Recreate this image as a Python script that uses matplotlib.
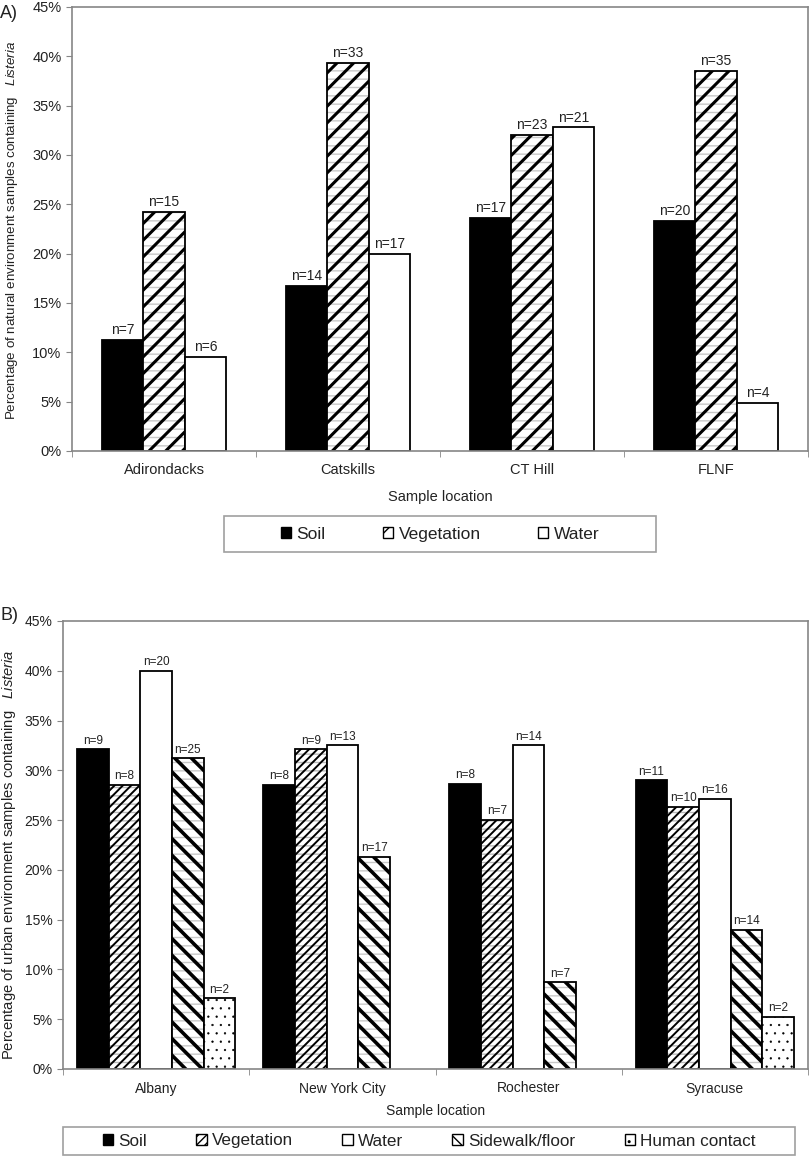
import matplotlib
matplotlib.use("Agg")
import matplotlib.pyplot as plt
import numpy as np
from matplotlib.patches import Patch, Rectangle
from matplotlib.ticker import FuncFormatter

plt.rcParams["font.family"] = ["Liberation Sans", "DejaVu Sans"]
plt.rcParams["mathtext.fontset"] = "custom"
plt.rcParams["mathtext.rm"] = "Liberation Sans"
plt.rcParams["mathtext.it"] = "Liberation Sans:italic"

# panel A: natural environment
natural_sites = ["Adirondacks", "Catskills", "CT Hill", "FLNF"]
natural_types = ["Soil", "Vegetation", "Water"]
natural_pct = [
    [11.3, 16.7, 23.6, 23.3],  # soil
    [24.2, 39.3, 32.0, 38.5],  # vegetation
    [9.5, 20.0, 32.8, 4.9],    # water
]
natural_n = [
    [7, 14, 17, 20],
    [15, 33, 23, 35],
    [6, 17, 21, 4],
]

# panel B: urban environment
urban_sites = ["Albany", "New York City", "Rochester", "Syracuse"]
urban_types = ["Soil", "Vegetation", "Water", "Sidewalk/floor", "Human contact"]
urban_pct = [
    [32.1, 28.5, 28.6, 29.0],   # soil
    [28.5, 32.1, 25.0, 26.3],   # vegetation
    [40.0, 32.5, 32.5, 27.1],   # water
    [31.2, 21.3, 8.7, 14.0],    # sidewalk/floor
    [7.1, 0.0, 0.0, 5.2],       # human contact
]
urban_n = [
    [9, 8, 8, 11],
    [8, 9, 7, 10],
    [20, 13, 14, 16],
    [25, 17, 7, 14],
    [2, None, None, 2],
]

GRAY = "#868686"
TXT = "#222222"
W, H = 810, 1156


def hatched_bar(ax, x, h, width, face, hatch, hatch_lw, under=None):
    # optional light grey horizontal lines under the main hatch
    if under is not None:
        with plt.rc_context({"hatch.linewidth": 1.0}):
            b0 = ax.bar(x, h, width, color="white", edgecolor=under, hatch="--", linewidth=0)
        for b in b0:
            if hasattr(b, "set_hatch_linewidth"):
                b.set_hatch_linewidth(1.0)
        face = "none"
    with plt.rc_context({"hatch.linewidth": hatch_lw}):
        bars = ax.bar(x, h, width, facecolor=face, edgecolor="black", hatch=hatch, linewidth=1.3)
    for b in bars:
        if hasattr(b, "set_hatch_linewidth"):
            b.set_hatch_linewidth(hatch_lw)
    return bars


def style_axis(ax, labels, fs, lpad):
    ax.set_xlim(-0.5, 3.5)
    ax.set_ylim(0, 0.45)
    ax.set_yticks(np.arange(0, 0.451, 0.05))
    ax.yaxis.set_major_formatter(FuncFormatter(lambda v, p: f"{v * 100:.0f}%"))
    ax.set_xticks(range(4), labels)
    ax.set_xticks(np.arange(-0.5, 4, 1), minor=True)
    ax.tick_params(axis="x", which="major", length=0, pad=9, labelsize=fs, labelcolor=TXT)
    ax.tick_params(axis="x", which="minor", length=4, color=GRAY, direction="out")
    ax.tick_params(axis="y", length=4, color=GRAY, direction="out", labelsize=fs, labelcolor=TXT)
    for s in ax.spines.values():
        s.set_color(GRAY)
        s.set_linewidth(1.2)
    ax.set_xlabel("Sample location", fontsize=fs, color=TXT, labelpad=lpad)


def boxed_legend(handles, box, fs, colsp):
    x0, y0, x1, y1 = box
    fig.patches.append(Rectangle((x0 / W, 1 - y1 / H), (x1 - x0) / W, (y1 - y0) / H,
                                 transform=fig.transFigure, facecolor="white",
                                 edgecolor="#a0a0a0", linewidth=1.2))
    leg = fig.legend(handles=handles, loc="center", ncol=len(handles),
                     bbox_to_anchor=((x0 + x1) / 2 / W, 1 - (y0 + y1) / 2 / H),
                     fontsize=fs, frameon=False, handlelength=0.6, handleheight=0.6,
                     handletextpad=0.3, columnspacing=colsp, borderaxespad=0, borderpad=0)
    for t in leg.get_texts():
        t.set_color(TXT)
    return leg


fig = plt.figure(figsize=(W / 100, H / 100), dpi=100)

# ---------- panel A ----------
axA = fig.add_axes([72 / W, 1 - 451 / H, 736 / W, 444 / H])
xA = np.arange(4)
wA = 0.225
styles_A = [
    dict(face="black", hatch=None, hatch_lw=1.0, under=None),
    dict(face="white", hatch="//", hatch_lw=2.2, under="#c8c8c8"),
    dict(face="white", hatch=None, hatch_lw=1.0, under=None),
]
handlesA = []
for i, (vals, ns, st) in enumerate(zip(natural_pct, natural_n, styles_A)):
    pos = xA + (i - 1) * wA
    h = np.array(vals) / 100
    hatched_bar(axA, pos, h, wA, **st)
    for px, py, n in zip(pos, h, ns):
        axA.annotate(f"n={n}", (px, py), xytext=(0, 2), textcoords="offset points",
                     ha="center", va="bottom", fontsize=10, color=TXT)
    handlesA.append(Patch(facecolor=st["face"], edgecolor="black", hatch=st["hatch"],
                          label=natural_types[i]))
style_axis(axA, natural_sites, 10.5, 9)
fig.text(12 / W, 1 - 230 / H,
         "Percentage of natural environment samples containing   $\\it{Listeria}$",
         rotation=90, ha="center", va="center", fontsize=9.6, color=TXT)
fig.text(0.0, 1 - 14 / H, "A)", fontsize=13, ha="left", va="center", color=TXT)

boxed_legend(handlesA, (224, 516, 656, 552), 12.5, 3.3)

# ---------- panel B ----------
axB = fig.add_axes([63 / W, 1 - 1069 / H, 745 / W, 448 / H])
xB = np.arange(4)
wB = 0.17
styles_B = [
    dict(face="black", hatch=None, hatch_lw=1.0, under=None),
    dict(face="white", hatch="////", hatch_lw=1.4, under="#b8b8b8"),
    dict(face="white", hatch=None, hatch_lw=1.0, under=None),
    dict(face="white", hatch="\\\\", hatch_lw=2.6, under="#c8c8c8"),
    dict(face="white", hatch="..", hatch_lw=0.4, under=None),
]
handlesB = []
for i, (vals, ns, st) in enumerate(zip(urban_pct, urban_n, styles_B)):
    pos = xB + (i - 2) * wB
    h = np.array(vals) / 100
    keep = h > 0
    hatched_bar(axB, pos[keep], h[keep], wB, **st)
    for px, py, n in zip(pos, h, ns):
        if n is None:
            continue
        axB.annotate(f"n={n}", (px, py), xytext=(0, 2), textcoords="offset points",
                     ha="center", va="bottom", fontsize=8.5, color=TXT)
    handlesB.append(Patch(facecolor=st["face"], edgecolor="black", hatch=st["hatch"],
                          label=urban_types[i]))
style_axis(axB, urban_sites, 10, 6)
fig.text(9 / W, 1 - 855 / H,
         "Percentage of urban environment samples containing   $\\it{Listeria}$",
         rotation=90, ha="center", va="center", fontsize=10.6, color=TXT)
fig.text(0.0, 1 - 616 / H, "B)", fontsize=13, ha="left", va="center", color=TXT)

boxed_legend(handlesB, (63, 1127, 795, 1155), 12.3, 2.9)

fig.savefig("out.png", dpi=100)
